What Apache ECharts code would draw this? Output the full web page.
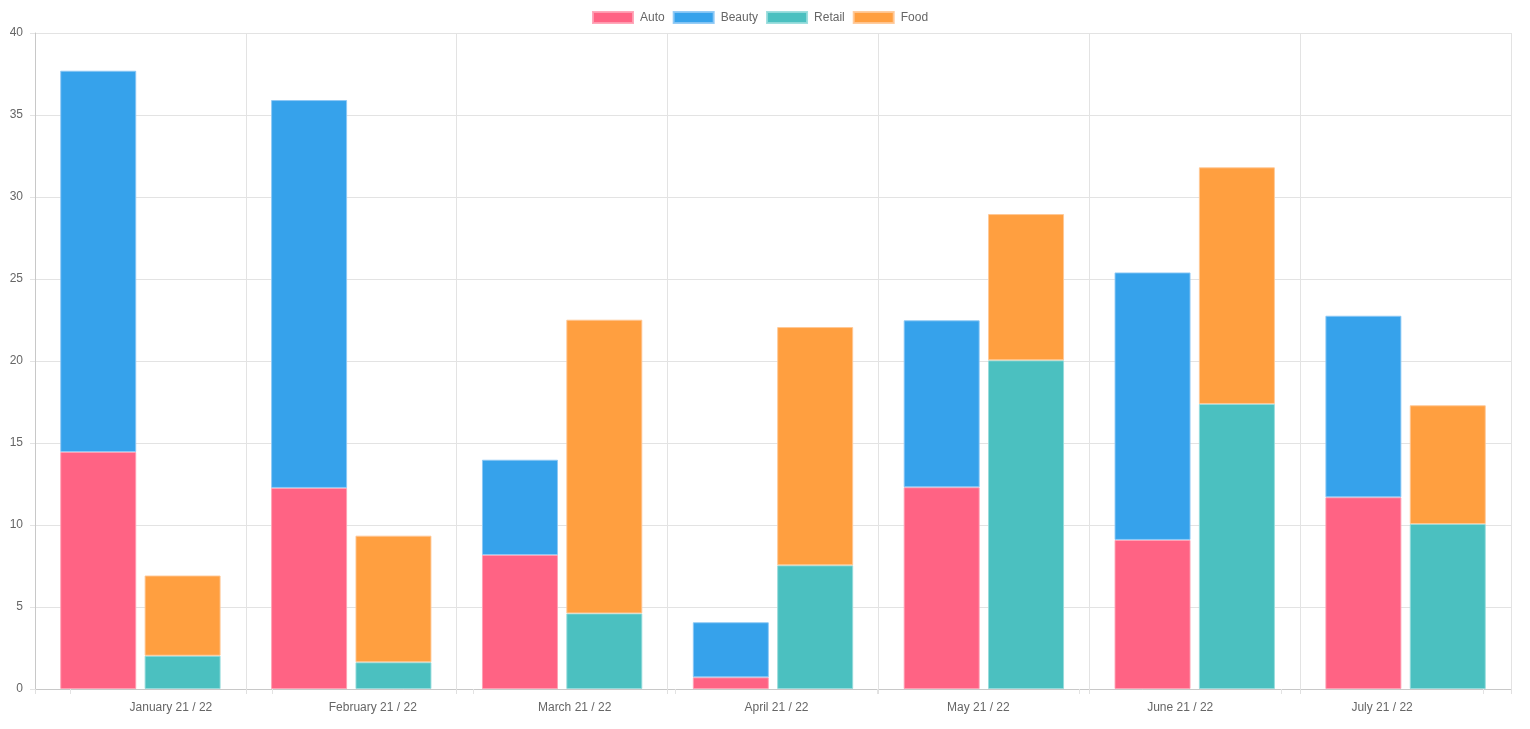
<!DOCTYPE html>
<html>
<head>
<meta charset="utf-8">
<script src="https://cdn.jsdelivr.net/npm/echarts@6/dist/echarts.min.js"></script>
<style>
html,body{margin:0;padding:0;background:#fff;}
#chart{width:1530px;height:729px;}
</style>
</head>
<body>
<div id="chart"></div>
<script>
const categories = ['January 21 / 22','February 21 / 22','March 21 / 22','April 21 / 22','May 21 / 22','June 21 / 22','July 21 / 22'];
const auto   = [14.45, 12.26, 8.17, 0.71, 12.30, 9.09, 11.69];
const beauty = [23.25, 23.65, 5.81, 3.36, 10.18, 16.31, 11.07];
const retail = [2.03, 1.63, 4.61, 7.54, 20.04, 17.38, 10.06];
const food   = [4.89, 7.72, 17.91, 14.53, 8.92, 14.43, 7.24];
const yTicks = { min: 0, max: 40, interval: 5 };

const FONT = '"Liberation Sans", Arial, Helvetica, sans-serif';
const colors = {Auto:'#FF6384', Beauty:'#36A2EB', Retail:'#4BC0C0', Food:'#FF9F40'};
const borders = {Auto:'rgba(255,160,180,0.9)', Beauty:'rgba(140,200,245,0.9)', Retail:'rgba(150,220,220,0.9)', Food:'rgba(255,200,150,0.9)'};

function barSeries(name, data, stack){
  return {
    name, type:'bar', stack, data,
    xAxisIndex:0, yAxisIndex:0,
    barWidth:76, barGap:'11%',
    itemStyle:{color:colors[name], borderColor:borders[name], borderWidth:1},
    emphasis:{disabled:true}
  };
}

const chart = echarts.init(document.getElementById('chart'), null, {renderer:'canvas'});
chart.setOption({
  animation:false,
  textStyle:{fontFamily:FONT},
  legend:{
    top:6, left:587,
    itemWidth:40, itemHeight:11, itemGap:8,
    icon:'rect',
    textStyle:{color:'#666', fontSize:12, fontFamily:FONT, padding:[0,0,0,2]},
    data:['Auto','Beauty','Retail','Food']
  },
  grid:[
    {left:35, right:19, top:33, bottom:40, containLabel:false},
    {left:70, right:47, top:33, bottom:40, containLabel:false}
  ],
  xAxis:[
    {
      type:'category', gridIndex:0, data:categories, boundaryGap:true,
      axisLine:{show:true, lineStyle:{color:'#c8c8c8'}},
      axisTick:{show:true, length:5, lineStyle:{color:'#e0e0e0'}},
      axisLabel:{show:false},
      splitLine:{show:true, lineStyle:{color:'#e3e3e3'}}
    },
    {
      type:'category', gridIndex:1, data:categories, boundaryGap:true, offset:6,
      axisLine:{show:false},
      axisTick:{show:true, length:5, lineStyle:{color:'#e3e3e3'}},
      axisLabel:{show:true, color:'#666', fontSize:12, fontFamily:FONT, margin:7},
      splitLine:{show:false}
    }
  ],
  yAxis:[
    {
      type:'value', gridIndex:0, min:yTicks.min, max:yTicks.max, interval:yTicks.interval,
      axisLine:{show:true, lineStyle:{color:'#c8c8c8'}},
      axisTick:{show:true, length:5, lineStyle:{color:'#e3e3e3'}},
      axisLabel:{color:'#666', fontSize:12, fontFamily:FONT, margin:12},
      splitLine:{show:true, lineStyle:{color:'#e3e3e3'}}
    },
    {type:'value', gridIndex:1, min:0, max:1, show:false}
  ],
  series:[
    barSeries('Auto', auto, 'a'),
    barSeries('Beauty', beauty, 'a'),
    barSeries('Retail', retail, 'b'),
    barSeries('Food', food, 'b')
  ]
});
</script>
</body>
</html>
